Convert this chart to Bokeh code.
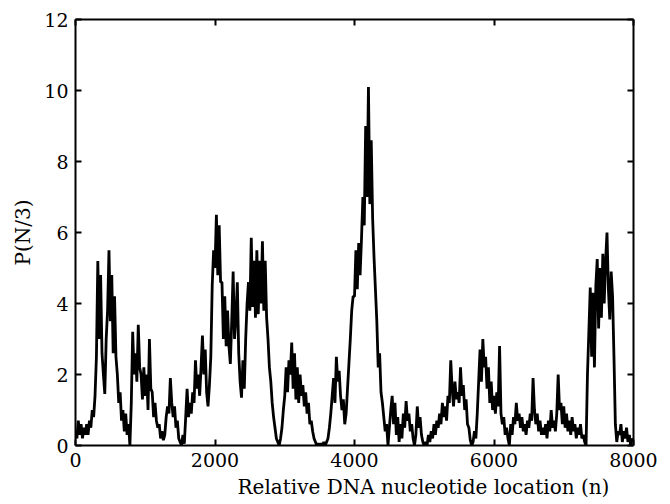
import numpy as np
from bokeh.plotting import figure
from bokeh.models import LinearAxis, Title, FixedTicker, Range1d
from bokeh.embed import file_html
from bokeh.resources import INLINE

# Relative DNA nucleotide location step (one reading every 20 nucleotides)
STEP = 20
# P(N/3) values, 5 readings per 100 nucleotides
p_values = [
    0.4, 0.2, 0.7, 0.3, 0.6,   0.2, 0.5, 0.3, 0.6, 0.3,   0.7, 0.5, 1.0, 0.8, 1.4,
    2.5, 5.2, 3.0, 4.8, 2.6,   2.0, 1.45, 3.0, 3.8, 5.5,  3.5, 4.8, 2.6, 4.2, 2.5,
    2.0, 1.2, 1.5, 0.7, 1.0,   0.4, 0.9, 0.3, 0.6, 0.0,   1.2, 3.2, 2.0, 2.6, 1.8,
    3.4, 2.2, 2.0, 1.3, 2.2,   1.4, 2.0, 1.0, 3.0, 1.6,   1.5, 0.8, 1.2, 0.7, 0.5,
    0.6, 0.2, 0.4, 0.15, 0.3,  0.8, 1.1, 0.9, 1.9, 1.2,   0.8, 1.1, 0.5, 0.7, 0.2,
    0.1, 0.0, 0.3, 0.05, 0.8,  1.6, 0.8, 1.2, 0.9, 1.5,   1.2, 2.4, 1.6, 2.0, 1.4,
    2.2, 3.1, 2.0, 2.7, 1.5,   1.1, 1.7, 2.5, 4.5, 5.5,   5.0, 6.5, 4.8, 6.2, 4.6,
    4.6, 3.0, 4.2, 2.8, 3.8,   2.8, 2.3, 3.5, 4.9, 3.0,   3.6, 4.6, 2.6, 1.8, 1.35,
    2.4, 1.6, 3.0, 4.0, 4.6,   3.8, 5.85, 3.9, 5.2, 3.6,  5.5, 3.7, 5.2, 4.0, 5.75,
    3.8, 5.2, 3.6, 3.0, 2.2,   1.8, 1.2, 0.8, 0.5, 0.2,   0.1, 0.0, 0.2, 0.5, 1.0,
    1.4, 2.2, 1.5, 2.4, 2.0,   2.9, 1.6, 2.6, 1.3, 2.2,   1.2, 2.0, 1.4, 1.7, 1.1,
    1.5, 0.9, 1.2, 0.6, 0.7,   0.4, 0.2, 0.1, 0.0, 0.05,  0.0, 0.05, 0.0, 0.1, 0.0,
    0.1, 0.2, 0.5, 0.9, 1.4,   1.9, 1.2, 2.5, 1.8, 2.1,   1.4, 1.0, 1.3, 0.6, 0.9,
    1.6, 2.3, 3.0, 3.8, 4.2,   4.2, 5.5, 4.4, 5.7, 4.8,   5.8, 7.0, 6.2, 9.0, 7.0,
    10.1, 6.8, 8.6, 6.4, 5.3,  4.4, 3.5, 2.2, 2.6, 1.5,   1.2, 0.8, 0.4, 0.6, 0.0,
    0.5, 1.0, 1.4, 0.6, 1.2,   0.3, 0.8, 0.1, 0.6, 0.2,   0.9, 0.5, 1.25, 0.7, 0.9,
    0.4, 0.6, 0.2, 0.0, 0.3,   1.1, 0.5, 0.8, 0.3, 0.1,   0.0, 0.1, 0.0, 0.3, 0.1,
    0.4, 0.2, 0.6, 0.3, 0.7,   0.5, 0.9, 0.6, 1.2, 0.8,   1.1, 0.7, 1.4, 1.2, 2.4,
    1.6, 1.1, 1.8, 1.3, 1.5,   1.2, 2.2, 1.4, 1.7, 1.0,   1.3, 0.6, 0.5, 0.15, 0.0,
    0.1, 0.4, 0.2, 0.9, 1.8,   2.7, 1.8, 3.0, 2.2, 2.5,   1.6, 2.2, 1.2, 1.8, 1.0,
    1.4, 0.9, 1.5, 1.1, 2.8,   0.9, 0.6, 0.8, 0.3, 0.5,   0.2, 0.0, 0.6, 0.3, 0.8,
    0.6, 1.2, 0.7, 0.9, 0.5,   0.8, 0.4, 0.6, 0.3, 0.7,   0.5, 0.9, 0.7, 1.9, 1.0,
    0.6, 0.9, 0.4, 0.7, 0.3,   0.5, 0.3, 0.6, 0.2, 0.7,   0.4, 1.0, 0.5, 0.7, 0.4,
    0.9, 2.0, 1.0, 1.2, 0.6,   1.1, 0.5, 0.9, 0.4, 0.7,   0.3, 0.8, 0.4, 0.6, 0.2,
    0.5, 0.3, 0.6, 0.2, 0.3,   0.1, 0.0, 2.0, 3.2, 4.45,  2.5, 4.3, 2.2, 4.5, 5.25,
    3.3, 5.0, 3.6, 5.4, 4.0,   5.2, 6.0, 4.4, 3.55, 4.9,  4.2, 2.5, 0.6, 0.1, 0.4,
    0.3, 0.6, 0.1, 0.4, 0.2,   0.5, 0.1, 0.3, 0.0, 0.2,
    0.1,
]
x_ticks = [0, 2000, 4000, 6000, 8000]
y_ticks = [0, 2, 4, 6, 8, 10, 12]
x_label = "Relative DNA nucleotide location (n)"
y_label = "P(N/3)"

locations = [i * STEP for i in range(len(p_values))]

FONT = "DejaVu Serif"

p = figure(width=670, height=504, x_range=Range1d(0, 8000), y_range=Range1d(0, 12),
           output_backend="svg", toolbar_location=None,
           min_border_left=75, min_border_right=37, min_border_top=19, min_border_bottom=59)
p.grid.visible = False
p.outline_line_color = None
p.background_fill_color = "white"
p.border_fill_color = "white"

p.line(locations, p_values, line_color="black", line_width=2.8)

def style(ax, ticks, show_labels=True):
    ax.ticker = FixedTicker(ticks=ticks)
    ax.major_tick_in = 6
    ax.major_tick_out = 0
    ax.minor_tick_line_color = None
    ax.axis_line_width = 2
    ax.axis_line_color = "black"
    ax.major_tick_line_width = 2
    ax.major_tick_line_color = "black"
    ax.major_label_text_font = FONT
    ax.major_label_text_font_size = "19px"
    ax.major_label_text_color = "black"
    if not show_labels:
        ax.major_label_text_font_size = "0px"
        ax.major_label_text_color = None

style(p.xaxis[0], x_ticks)
style(p.yaxis[0], y_ticks)
p.xaxis[0].major_label_standoff = 7
p.yaxis[0].major_label_standoff = 7

p.yaxis[0].axis_label = y_label
p.yaxis[0].axis_label_text_font = FONT
p.yaxis[0].axis_label_text_font_size = "20px"
p.yaxis[0].axis_label_text_font_style = "normal"
p.yaxis[0].axis_label_text_color = "black"
p.yaxis[0].axis_label_standoff = 6

top = LinearAxis()
style(top, x_ticks, show_labels=False)
p.add_layout(top, "above")
right = LinearAxis()
style(right, y_ticks, show_labels=False)
p.add_layout(right, "right")

p.add_layout(Title(text=x_label, align="left", offset=162, text_font=FONT,
                   text_font_size="20px", text_font_style="normal",
                   text_color="black", standoff=7), "below")

open("out.html", "w").write(file_html(p, INLINE))
